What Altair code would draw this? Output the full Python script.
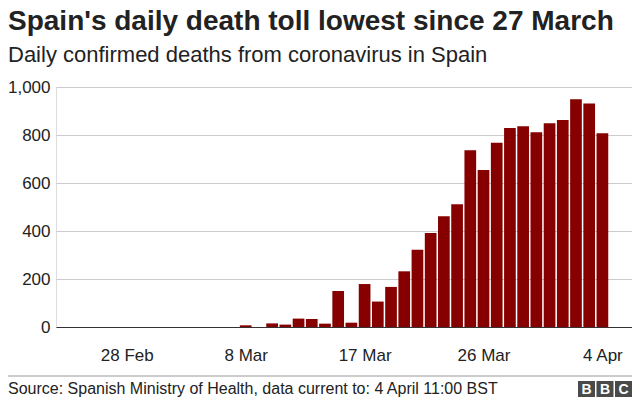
import altair as alt
import pandas as pd

dates = ["2020-03-08", "2020-03-10", "2020-03-11", "2020-03-12", "2020-03-13",
         "2020-03-14", "2020-03-15", "2020-03-16", "2020-03-17", "2020-03-18",
         "2020-03-19", "2020-03-20", "2020-03-21", "2020-03-22", "2020-03-23",
         "2020-03-24", "2020-03-25", "2020-03-26", "2020-03-27", "2020-03-28",
         "2020-03-29", "2020-03-30", "2020-03-31", "2020-04-01", "2020-04-02",
         "2020-04-03", "2020-04-04"]
deaths = [7, 15, 10, 35, 33, 14, 150, 18, 179, 106, 167, 232, 322, 392, 461,
          511, 736, 654, 768, 829, 836, 811, 849, 862, 949, 931, 807]

y_ticks = [0, 200, 400, 600, 800, 1000]
x_tick_dates = [(2, 28), (3, 8), (3, 17), (3, 26), (4, 4)]

title_text = "Spain's daily death toll lowest since 27 March"
subtitle_text = "Daily confirmed deaths from coronavirus in Spain"
source_text = "Source: Spanish Ministry of Health, data current to: 4 April 11:00 BST"
logo_letters = ["B", "B", "C"]

FONT = "Liberation Sans"
W, H = 576, 240

df = pd.DataFrame({"date": dates, "deaths": deaths})

bars = alt.Chart(df).mark_bar(color="#860000", size=11.7).encode(
    x=alt.X(
        "date:T",
        title=None,
        scale=alt.Scale(
            type="utc",
            padding=0,
            domain=[
                alt.DateTime(year=2020, month=2, date=22, hours=15, minutes=22, utc=True),
                alt.DateTime(year=2020, month=4, date=6, hours=5, minutes=46, utc=True),
            ],
        ),
        axis=alt.Axis(
            values=[alt.DateTime(year=2020, month=m, date=d, utc=True) for m, d in x_tick_dates],
            labelExpr="utcFormat(datum.value, '%-d %b')",
            grid=False,
            ticks=False,
            domain=True,
            domainColor="#333333",
            domainWidth=1,
            labelPadding=20,
            labelFontSize=17,
            labelColor="#222222",
            labelFont=FONT,
            zindex=1,
        ),
    ),
    y=alt.Y(
        "deaths:Q",
        title=None,
        scale=alt.Scale(domain=[0, 1000], nice=False),
        axis=alt.Axis(
            values=y_ticks,
            format=",.0f",
            grid=True,
            gridColor="#cccccc",
            domain=False,
            ticks=False,
            labelPadding=6,
            labelFontSize=17,
            labelColor="#222222",
            labelFont=FONT,
        ),
    ),
)

one = pd.DataFrame({"k": [0]})

title = alt.Chart(one).mark_text(
    text=title_text, font=FONT, fontSize=28, fontWeight="bold", color="#222222",
    align="left", baseline="alphabetic",
).encode(x=alt.value(-48), y=alt.value(-57))

subtitle = alt.Chart(one).mark_text(
    text=subtitle_text, font=FONT, fontSize=22, color="#222222",
    align="left", baseline="alphabetic",
).encode(x=alt.value(-48), y=alt.value(-25))

footer_rule = alt.Chart(one).mark_rule(color="#999999", strokeWidth=1).encode(
    x=alt.value(-48), x2=alt.value(W), y=alt.value(289)
)

source = alt.Chart(one).mark_text(
    text=source_text, font=FONT, fontSize=16, color="#222222",
    align="left", baseline="alphabetic",
).encode(x=alt.value(-48), y=alt.value(307))

logo_x0 = [522, 540.5, 559]
logo_boxes = alt.layer(*[
    alt.Chart(one).mark_rect(color="#4a4a4a").encode(
        x=alt.value(x0), x2=alt.value(x0 + 17), y=alt.value(294), y2=alt.value(310)
    )
    for x0 in logo_x0
])
logo_text = alt.layer(*[
    alt.Chart(one).mark_text(
        text=l, font=FONT, fontSize=14, fontWeight="bold", color="white",
        align="center", baseline="middle",
    ).encode(x=alt.value(x0 + 8.5), y=alt.value(302.5))
    for l, x0 in zip(logo_letters, logo_x0)
])

chart = alt.layer(
    bars, title, subtitle, footer_rule, source, logo_boxes, logo_text
).properties(
    width=W,
    height=H,
    padding={"left": 48, "top": 79, "right": 0, "bottom": 70},
    autosize=alt.AutoSizeParams(type="none"),
).configure_view(stroke=None).configure(background="white")

chart.save("out.html", embed_options={"renderer": "svg", "actions": False})
